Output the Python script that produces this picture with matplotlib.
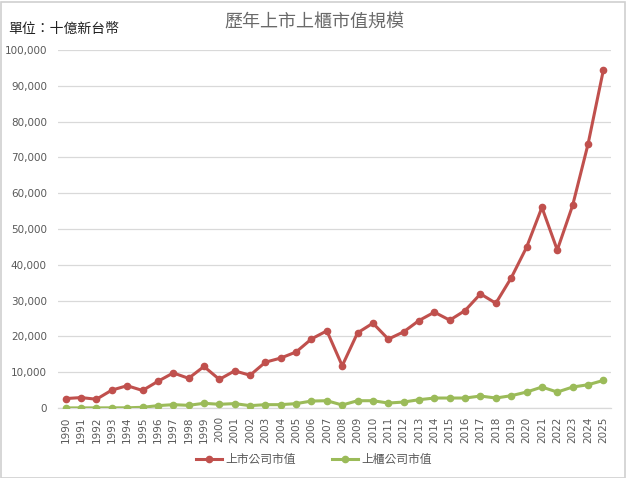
import numpy as np
import matplotlib.pyplot as plt
from matplotlib.patches import Rectangle

plt.rcParams['font.family'] = ['Noto Sans CJK TC', 'DejaVu Sans']

years = list(range(1990, 2026))

# 上市公司市值 (十億新台幣)
listed = [2640, 2920, 2450, 5000, 6230, 4900, 7450, 9800, 8300, 11600,
          8000, 10380, 9150, 12800, 13960, 15660, 19300, 21560, 11800, 21000,
          23700, 19240, 21280, 24440, 26770, 24540, 27230, 31880, 29270, 36340,
          44890, 56040, 44140, 56600, 73660, 94400]

# 上櫃公司市值 (十億新台幣)
otc = [30, 40, 40, 50, 60, 200, 660, 940, 750, 1320,
       1040, 1230, 660, 940, 940, 1230, 1950, 2040, 840, 2040,
       2040, 1390, 1670, 2320, 2790, 2790, 2790, 3350, 2790, 3440,
       4460, 5860, 4460, 5860, 6500, 7710]

red = '#C0504D'
green = '#9BBB59'
grid_c = '#D9D9D9'
text_c = '#595959'

fig = plt.figure(figsize=(6.28, 4.78), dpi=100)
ax = fig.add_axes([0.0924, 0.1464, 0.8806, 0.749])

x = np.arange(len(years))
ax.plot(x, listed, color=red, lw=2.2, marker='o', ms=4.5, label='上市公司市值', zorder=3)
ax.plot(x, otc, color=green, lw=2.2, marker='o', ms=4.5, label='上櫃公司市值', zorder=3)

ax.set_xlim(-0.5, len(years) - 0.5)
ax.set_ylim(0, 100000)
ax.set_yticks(np.arange(0, 100001, 10000))
ax.yaxis.set_major_formatter(plt.FuncFormatter(lambda v, p: f'{int(v):,}'))
ax.set_xticks(x)
ax.set_xticklabels([str(y) for y in years], rotation=90)
ax.tick_params(axis='both', length=0, labelsize=7.5, colors=text_c)
ax.tick_params(axis='x', pad=6)
ax.tick_params(axis='y', pad=8)
for lab in ax.get_xticklabels() + ax.get_yticklabels():
    lab.set_family(['DejaVu Sans'])

ax.grid(axis='y', color=grid_c, lw=0.9)
ax.set_axisbelow(True)
for s in ['top', 'right', 'left']:
    ax.spines[s].set_visible(False)
ax.spines['bottom'].set_color(grid_c)
ax.spines['bottom'].set_linewidth(0.9)

fig.text(0.5, 0.953, '歷年上市上櫃市值規模', ha='center', va='center', fontsize=13, color='#6a6a6a')
fig.text(0.013, 0.940, '單位：十億新台幣', ha='left', va='center', fontsize=10, color='#222222')

fig.legend(loc='center', bbox_to_anchor=(0.5, 0.038), ncol=2, frameon=False,
           fontsize=8.5, labelcolor=text_c, handlelength=2.2, handletextpad=0.3,
           columnspacing=3)

# spreadsheet frame
fig.patches.append(Rectangle((0.002, 0.0), 0.994, 0.996, transform=fig.transFigure,
                             fill=False, ec='#D0D0D0', lw=1.2))

fig.savefig('out.png', dpi=100)
